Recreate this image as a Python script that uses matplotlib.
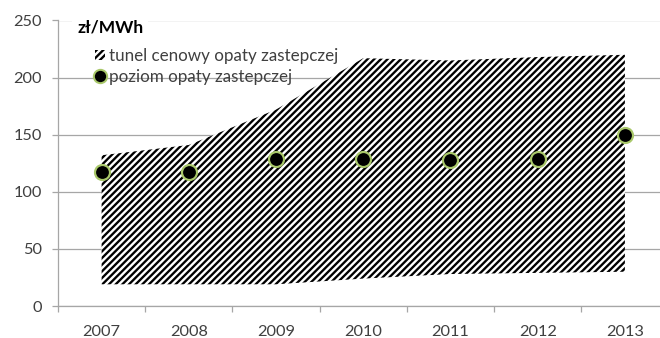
import matplotlib
matplotlib.use("Agg")
import matplotlib.pyplot as plt
from matplotlib.patches import Patch
from matplotlib.lines import Line2D
import numpy as np

# Data
years = ["2007", "2008", "2009", "2010", "2011", "2012", "2013"]
tunnel_low = [19, 19, 19, 24, 28, 29, 30]
tunnel_high = [132, 141, 172, 217, 215, 218, 220]
fee_level = [117, 117, 129, 129, 128, 129, 150]

unit_label = "zł/MWh"
tunnel_label = "tunel cenowy opaty zastepczej"
fee_label = "poziom opaty zastepczej"
y_ticks = [0, 50, 100, 150, 200, 250]

GRID = "#A6A6A6"
TEXT = "#404040"
RING = "#A9C86A"
HATCH = "//////"

plt.rcParams["font.family"] = ["Lato", "DejaVu Sans"]
plt.rcParams["hatch.linewidth"] = 1.4

DPI = 120
fig = plt.figure(figsize=(660 / DPI, 338 / DPI), dpi=DPI)
W, H = 660, 338
ax = fig.add_axes([58 / W, (H - 306) / H, (668.5 - 58) / W, (306 - 20.5) / H])

x = np.arange(len(years))

# Price tunnel: white band with diagonal hatching
ax.fill_between(x, tunnel_low, tunnel_high, facecolor="white",
                edgecolor="black", hatch=HATCH, linewidth=0, zorder=2)

# Substitution fee level
ax.plot(x, fee_level, linestyle="none", marker="o", markersize=9,
        markerfacecolor="black", markeredgecolor=RING,
        markeredgewidth=1.3, zorder=3)

ax.set_xlim(-0.5, len(years) - 0.5)
ax.set_ylim(0, 250)
ax.set_yticks(y_ticks)
ax.set_yticklabels([str(v) for v in y_ticks])
ax.yaxis.grid(True, color=GRID, linewidth=0.75, zorder=0)
ax.set_axisbelow(True)

ax.set_xticks(x)
ax.set_xticklabels(years)
ax.set_xticks(np.arange(len(years) + 1) - 0.5, minor=True)
ax.tick_params(axis="x", which="major", length=0, pad=11.2, labelsize=9.8,
               labelcolor=TEXT)
ax.tick_params(axis="x", which="minor", length=3.6, width=0.75, color=GRID,
               direction="out")
ax.tick_params(axis="y", length=3.6, width=0.75, color=GRID, pad=6,
               labelsize=9.8, labelcolor=TEXT)

for s in ("top", "right"):
    ax.spines[s].set_visible(False)
for s in ("left", "bottom"):
    ax.spines[s].set_color(GRID)
    ax.spines[s].set_linewidth(0.75)

# Unit label sitting over the top gridline
ax.text(-0.28, 243.5, unit_label, fontsize=10.4, fontweight="bold",
        color="black", ha="left", va="center", zorder=4,
        bbox=dict(facecolor="white", edgecolor="none", pad=3))

handles = [
    Patch(facecolor="white", edgecolor="black", hatch=HATCH, linewidth=0),
    Line2D([], [], linestyle="none", marker="o", markersize=8,
           markerfacecolor="black", markeredgecolor=RING,
           markeredgewidth=1.2),
]
leg = ax.legend(handles, [tunnel_label, fee_label], loc="upper left",
                bbox_to_anchor=(95 / W, (H - 48) / H),
                bbox_transform=fig.transFigure, frameon=False,
                fontsize=10.2, handlelength=0.6, handleheight=0.45,
                handletextpad=0.2, labelspacing=0.28, borderpad=0,
                borderaxespad=0)
for t in leg.get_texts():
    t.set_color(TEXT)

fig.savefig("out.png", dpi=DPI)
